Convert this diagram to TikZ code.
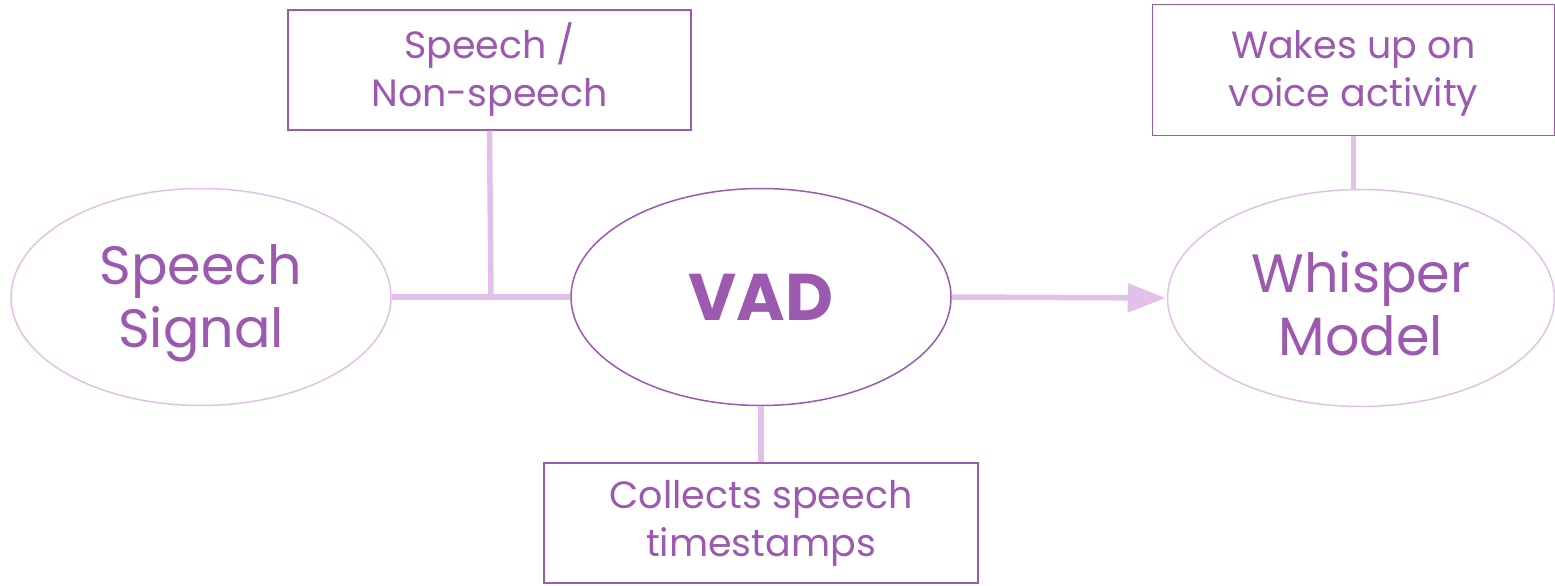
\documentclass[tikz,border=0pt]{standalone}
\usepackage{fontspec}
\setmainfont{Poppins}
\usetikzlibrary{arrows.meta,shapes.geometric}
\definecolor{dark}{HTML}{9B59B0}
\definecolor{light}{HTML}{E1C1E8}
\tikzset{
  mainell/.style={ellipse, draw=#1, line width=1.5pt, minimum width=380pt, minimum height=217pt, inner sep=0pt, text=dark, align=center},
  notebox/.style={rectangle, draw=dark, line width=1.5pt, inner sep=0pt, text=dark, align=center, font=\fontsize{38}{48}\selectfont},
  conn/.style={draw=light, line width=5.5pt},
}
\begin{document}
\begin{tikzpicture}[x=1pt,y=-1pt]
\useasboundingbox (0,0) rectangle (1555,586);
\node[mainell=light, font=\fontsize{54}{63}\selectfont] (sig) at (201,297) {\rule{0pt}{52pt}Speech\\Signal};
\node[mainell=dark, font=\fontsize{66}{70}\selectfont\bfseries] (vad) at (761,297) {VAD};
\node[mainell=light, minimum width=387pt, font=\fontsize{54}{63}\selectfont] (wh) at (1361,298) {\rule{0pt}{52pt}Whisper\\Model};
\node[notebox, minimum width=403pt, minimum height=120pt] (b1) at (489.5,70) {Speech /\\Non-speech};
\node[notebox, minimum width=402pt, minimum height=131pt] (b2) at (1353.5,70) {\rule{0pt}{34pt}Wakes up on\\voice activity};
\node[notebox, minimum width=434pt, minimum height=120pt] (b3) at (761,523) {Collects speech\\timestamps};
\coordinate (j) at (491,297);
\draw[conn] (sig.east) -- (vad.west);
\draw[conn] (b1.south) -- (j);
\draw[conn, -{Triangle[length=38pt,width=28pt]}, shorten >=1pt] (vad.east) -- (wh.west);
\draw[conn] (wh.north -| b2.south) -- (b2.south);
\draw[conn] (vad.south) -- (b3.north);
\end{tikzpicture}
\end{document}
